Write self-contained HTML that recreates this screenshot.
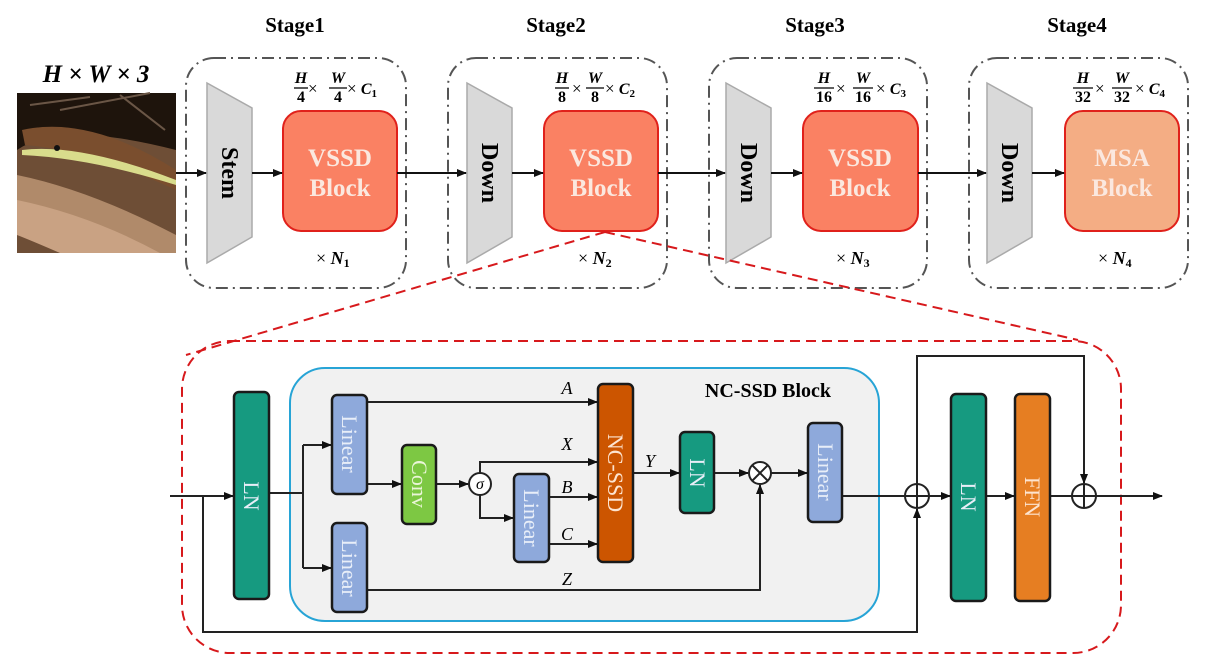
<!DOCTYPE html>
<html><head><meta charset="utf-8"><style>
html,body{margin:0;padding:0;background:#fff;}
svg{display:block;font-family:"Liberation Serif",serif;}
.st{font-weight:bold;font-size:21px;text-anchor:middle;}
.blk{font-weight:bold;font-size:25px;fill:#fbe8df;text-anchor:middle;}
.m{font-weight:bold;font-style:italic;font-size:16px;}
.d{font-weight:bold;font-size:16px;text-anchor:middle;}
.x{font-size:17px;}
.vl{fill:#e8eef8;font-size:22px;}
.lab{font-style:italic;font-size:18px;text-anchor:middle;}
</style></head><body>
<svg width="1206" height="666" viewBox="0 0 1206 666" xmlns="http://www.w3.org/2000/svg">
<defs>
<marker id="ar" markerWidth="10" markerHeight="10" refX="9" refY="5" orient="auto" markerUnits="userSpaceOnUse"><path d="M0,1 L10,5 L0,9 z" fill="#111"/></marker>
</defs>

<text class="st" x="295" y="32">Stage1</text>
<text class="st" x="556" y="32">Stage2</text>
<text class="st" x="815" y="32">Stage3</text>
<text class="st" x="1077" y="32">Stage4</text>
<text x="96" y="82" style="font-weight:bold;font-style:italic;font-size:25px;text-anchor:middle">H × W × 3</text>

<!-- image -->
<rect x="17" y="93" width="159" height="160" fill="#1e140c"/>
<path d="M17,150 Q60,120 176,150 L176,253 L17,253 z" fill="#6e4e36"/>
<path d="M17,175 Q90,190 176,235 L176,253 L70,253 Q30,235 17,230z" fill="#b08a6a"/>
<path d="M17,200 Q90,215 160,253 L60,253 Q30,240 17,235z" fill="#c9a283"/>
<path d="M22,130 Q90,115 176,170 L176,190 Q90,150 25,145z" fill="#7a4e2e"/>
<path d="M22,150 Q80,143 176,180 L176,185 Q90,158 22,155z" fill="#d9dc8c"/>
<path d="M30,105 L90,97 M60,110 L150,93 M120,95 L165,130" stroke="#6a5646" stroke-width="2"/>
<circle cx="57" cy="148" r="3" fill="#111"/>

<g fill="none" stroke="#555" stroke-width="2" stroke-dasharray="12,5,2,5">
<rect x="186" y="58" width="220" height="230" rx="28"/>
<rect x="448" y="58" width="219" height="230" rx="28"/>
<rect x="709" y="58" width="218" height="230" rx="28"/>
<rect x="969" y="58" width="219" height="230" rx="28"/>
</g>

<g fill="#d9d9d9" stroke="#aaa" stroke-width="1.5">
<polygon points="207,83 252,108 252,237 207,263"/>
<polygon points="467,83 512,108 512,237 467,263"/>
<polygon points="726,83 771,108 771,237 726,263"/>
<polygon points="987,83 1032,108 1032,237 987,263"/>
</g>
<g style="font-weight:bold;font-size:24px" text-anchor="middle">
<text transform="translate(222,173) rotate(90)">Stem</text>
<text transform="translate(482,173) rotate(90)">Down</text>
<text transform="translate(741,173) rotate(90)">Down</text>
<text transform="translate(1002,173) rotate(90)">Down</text>
</g>

<g stroke="#e0211b" stroke-width="2">
<rect x="283" y="111" width="114" height="120" rx="18" fill="#fa8163"/>
<rect x="544" y="111" width="114" height="120" rx="18" fill="#fa8163"/>
<rect x="803" y="111" width="115" height="120" rx="18" fill="#fa8163"/>
<rect x="1065" y="111" width="114" height="120" rx="18" fill="#f4ad84"/>
</g>
<text class="blk" x="340" y="166">VSSD</text><text class="blk" x="340" y="196">Block</text>
<text class="blk" x="601" y="166">VSSD</text><text class="blk" x="601" y="196">Block</text>
<text class="blk" x="860" y="166">VSSD</text><text class="blk" x="860" y="196">Block</text>
<text class="blk" x="1122" y="166">MSA</text><text class="blk" x="1122" y="196">Block</text>

<g stroke="#111" stroke-width="2" marker-end="url(#ar)">
<line x1="176" y1="173" x2="206" y2="173"/>
<line x1="252" y1="173" x2="282" y2="173"/>
<line x1="397" y1="173" x2="466" y2="173"/>
<line x1="512" y1="173" x2="543" y2="173"/>
<line x1="658" y1="173" x2="725" y2="173"/>
<line x1="771" y1="173" x2="802" y2="173"/>
<line x1="918" y1="173" x2="986" y2="173"/>
<line x1="1032" y1="173" x2="1064" y2="173"/>
</g>

<g>
<g transform="translate(301,0)"><text class="m" x="0" y="83" text-anchor="middle">H</text><line x1="-7" y1="88" x2="7" y2="88" stroke="#000" stroke-width="1.3"/><text class="d" x="0" y="102">4</text></g>
<text class="x" x="308" y="94">×</text>
<g transform="translate(338,0)"><text class="m" x="0" y="83" text-anchor="middle">W</text><line x1="-9" y1="88" x2="9" y2="88" stroke="#000" stroke-width="1.3"/><text class="d" x="0" y="102">4</text></g>
<text x="347" y="94" class="x">× <tspan class="m">C</tspan><tspan style="font-weight:bold;font-size:11px" dy="3">1</tspan></text>

<g transform="translate(562,0)"><text class="m" x="0" y="83" text-anchor="middle">H</text><line x1="-7" y1="88" x2="7" y2="88" stroke="#000" stroke-width="1.3"/><text class="d" x="0" y="102">8</text></g>
<text class="x" x="572" y="94">×</text>
<g transform="translate(595,0)"><text class="m" x="0" y="83" text-anchor="middle">W</text><line x1="-9" y1="88" x2="9" y2="88" stroke="#000" stroke-width="1.3"/><text class="d" x="0" y="102">8</text></g>
<text x="605" y="94" class="x">× <tspan class="m">C</tspan><tspan style="font-weight:bold;font-size:11px" dy="3">2</tspan></text>

<g transform="translate(824,0)"><text class="m" x="0" y="83" text-anchor="middle">H</text><line x1="-10" y1="88" x2="10" y2="88" stroke="#000" stroke-width="1.3"/><text class="d" x="0" y="102">16</text></g>
<text class="x" x="836" y="94">×</text>
<g transform="translate(863,0)"><text class="m" x="0" y="83" text-anchor="middle">W</text><line x1="-10" y1="88" x2="10" y2="88" stroke="#000" stroke-width="1.3"/><text class="d" x="0" y="102">16</text></g>
<text x="876" y="94" class="x">× <tspan class="m">C</tspan><tspan style="font-weight:bold;font-size:11px" dy="3">3</tspan></text>

<g transform="translate(1083,0)"><text class="m" x="0" y="83" text-anchor="middle">H</text><line x1="-10" y1="88" x2="10" y2="88" stroke="#000" stroke-width="1.3"/><text class="d" x="0" y="102">32</text></g>
<text class="x" x="1095" y="94">×</text>
<g transform="translate(1122,0)"><text class="m" x="0" y="83" text-anchor="middle">W</text><line x1="-10" y1="88" x2="10" y2="88" stroke="#000" stroke-width="1.3"/><text class="d" x="0" y="102">32</text></g>
<text x="1135" y="94" class="x">× <tspan class="m">C</tspan><tspan style="font-weight:bold;font-size:11px" dy="3">4</tspan></text>
</g>

<g style="font-size:18px">
<text x="316" y="264">× <tspan style="font-weight:bold;font-style:italic">N</tspan><tspan style="font-weight:bold;font-size:12px" dy="3">1</tspan></text>
<text x="578" y="264">× <tspan style="font-weight:bold;font-style:italic">N</tspan><tspan style="font-weight:bold;font-size:12px" dy="3">2</tspan></text>
<text x="836" y="264">× <tspan style="font-weight:bold;font-style:italic">N</tspan><tspan style="font-weight:bold;font-size:12px" dy="3">3</tspan></text>
<text x="1098" y="264">× <tspan style="font-weight:bold;font-style:italic">N</tspan><tspan style="font-weight:bold;font-size:12px" dy="3">4</tspan></text>
</g>

<g fill="none" stroke="#d7191c" stroke-width="2" stroke-dasharray="10,6">
<line x1="605" y1="232" x2="186" y2="355"/>
<line x1="605" y1="232" x2="1078" y2="340"/>
<rect x="182" y="341" width="939" height="312" rx="48"/>
</g>

<rect x="290" y="368" width="589" height="253" rx="35" fill="#f1f1f1" stroke="#27a4d6" stroke-width="2"/>
<text x="768" y="397" style="font-weight:bold;font-size:20px;text-anchor:middle">NC-SSD Block</text>

<g fill="none" stroke="#222" stroke-width="2">
<polyline points="170,496 233,496" marker-end="url(#ar)"/>
<polyline points="203,496 203,632 917,632 917,509" marker-end="url(#ar)"/>
<polyline points="269,493 303,493"/>
<polyline points="303,445 303,568"/>
<polyline points="303,445 331,445" marker-end="url(#ar)"/>
<polyline points="303,568 331,568" marker-end="url(#ar)"/>
<polyline points="367,402 597,402" marker-end="url(#ar)"/>
<polyline points="367,484 401,484" marker-end="url(#ar)"/>
<polyline points="436,484 468,484" marker-end="url(#ar)"/>
<polyline points="480,473 480,462 597,462" marker-end="url(#ar)"/>
<polyline points="480,495 480,518 513,518" marker-end="url(#ar)"/>
<polyline points="549,497 597,497" marker-end="url(#ar)"/>
<polyline points="549,544 597,544" marker-end="url(#ar)"/>
<polyline points="633,473 679,473" marker-end="url(#ar)"/>
<polyline points="714,473 748,473" marker-end="url(#ar)"/>
<polyline points="771,473 807,473" marker-end="url(#ar)"/>
<polyline points="367,590 760,590 760,485" marker-end="url(#ar)"/>
<polyline points="842,496 905,496"/>
<polyline points="929,496 950,496" marker-end="url(#ar)"/>
<polyline points="986,496 1014,496" marker-end="url(#ar)"/>
<polyline points="1050,496 1072,496"/>
<polyline points="917,484 917,356 1084,356 1084,483" marker-end="url(#ar)"/>
<polyline points="1096,496 1162,496" marker-end="url(#ar)"/>
</g>

<g stroke="#1a1a1a" stroke-width="2.5">
<rect x="234" y="392" width="35" height="207" rx="5" fill="#169a80"/>
<rect x="332" y="395" width="35" height="99" rx="5" fill="#8ea9db"/>
<rect x="332" y="523" width="35" height="89" rx="5" fill="#8ea9db"/>
<rect x="402" y="445" width="34" height="79" rx="5" fill="#7dc843"/>
<rect x="514" y="474" width="35" height="88" rx="5" fill="#8ea9db"/>
<rect x="598" y="384" width="35" height="178" rx="5" fill="#cc5500"/>
<rect x="680" y="432" width="34" height="81" rx="5" fill="#169a80"/>
<rect x="808" y="423" width="34" height="99" rx="5" fill="#8ea9db"/>
<rect x="951" y="394" width="35" height="207" rx="5" fill="#169a80"/>
<rect x="1015" y="394" width="35" height="207" rx="5" fill="#e67e22"/>
</g>
<g class="vl" text-anchor="middle">
<text transform="translate(251,496) rotate(90)" dy="7">LN</text>
<text transform="translate(349,444) rotate(90)" dy="7">Linear</text>
<text transform="translate(349,568) rotate(90)" dy="7">Linear</text>
<text transform="translate(419,484) rotate(90)" dy="7" style="fill:#eaf5d8">Conv</text>
<text transform="translate(531,518) rotate(90)" dy="7">Linear</text>
<text transform="translate(615,473) rotate(90)" dy="7" style="fill:#fde4d0">NC-SSD</text>
<text transform="translate(697,473) rotate(90)" dy="7">LN</text>
<text transform="translate(825,472) rotate(90)" dy="7">Linear</text>
<text transform="translate(968,497) rotate(90)" dy="7">LN</text>
<text transform="translate(1032,497) rotate(90)" dy="7" style="fill:#fde4d0">FFN</text>
</g>

<g fill="#fff" stroke="#222" stroke-width="2">
<circle cx="480" cy="484" r="11"/>
<circle cx="760" cy="473" r="11"/>
<circle cx="917" cy="496" r="12"/>
<circle cx="1084" cy="496" r="12"/>
</g>
<text x="480" y="489" style="font-style:italic;font-size:16px;text-anchor:middle">σ</text>
<g stroke="#222" stroke-width="2">
<line x1="752" y1="465" x2="768" y2="481"/><line x1="768" y1="465" x2="752" y2="481"/>
<line x1="905" y1="496" x2="929" y2="496"/><line x1="917" y1="484" x2="917" y2="508"/>
<line x1="1072" y1="496" x2="1096" y2="496"/><line x1="1084" y1="484" x2="1084" y2="508"/>
</g>

<text class="lab" x="567" y="394">A</text>
<text class="lab" x="567" y="450">X</text>
<text class="lab" x="567" y="493">B</text>
<text class="lab" x="567" y="540">C</text>
<text class="lab" x="650" y="467">Y</text>
<text class="lab" x="567" y="585">Z</text>
</svg>
</body></html>
